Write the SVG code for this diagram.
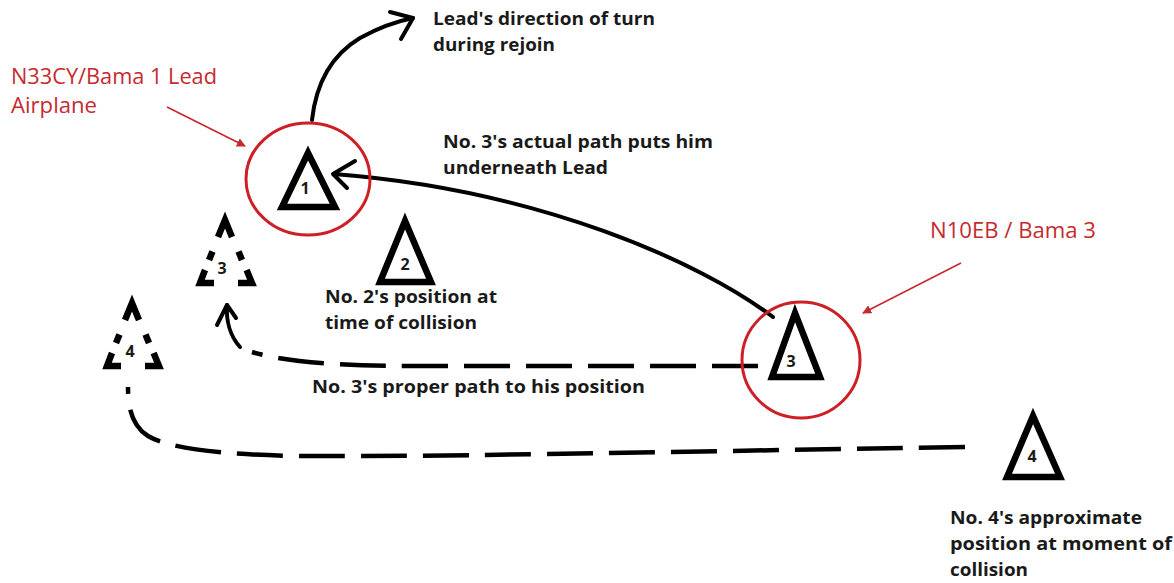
<svg xmlns="http://www.w3.org/2000/svg" width="1174" height="583" viewBox="0 0 1174 583">
  <style>
    .lbl { font-family: "Open Sans", "Liberation Sans", sans-serif; font-weight: bold; font-size: 17.5px; fill: #1a1a1a; }
    .red { font-family: "Open Sans", "Liberation Sans", sans-serif; font-size: 21px; fill: #c62a2f; }
    .num { font-family: "Open Sans", "Liberation Sans", sans-serif; font-weight: bold; font-size: 16px; fill: #1a1a1a; text-anchor: middle; }
    .tri { fill: none; stroke: #000; stroke-width: 6.5; stroke-linejoin: miter; stroke-miterlimit: 10; }
    .ring { fill: none; stroke: #cc1f26; stroke-width: 3; }
    .path { fill: none; stroke: #000; stroke-width: 4; stroke-linecap: round; stroke-linejoin: round; }
    .dash { fill: none; stroke: #000; stroke-width: 4.5; stroke-dasharray: 46 16; }
    .pointer { fill: none; stroke: #c62a2f; stroke-width: 1.6; }
  </style>
  <defs>
    <marker id="redHead" viewBox="0 0 10 10" refX="9" refY="5" markerWidth="9" markerHeight="9" markerUnits="userSpaceOnUse" orient="auto">
      <path d="M0,0 L10,5 L0,10 Z" fill="#c62a2f"/>
    </marker>
    <!-- hand-drawn dashed triangle, apex at origin -->
    <g id="dashTri" fill="none" stroke="#000" stroke-width="6.5" stroke-linejoin="miter">
      <polyline points="-7,17 0,0 7,17"/>
      <line x1="-12.5" y1="31.5" x2="-16" y2="40"/>
      <line x1="13.5" y1="31.5" x2="17" y2="40"/>
      <polyline points="-20,50 -25,63 -11,63"/>
      <polyline points="21.6,50 27,63 13,63"/>
    </g>
  </defs>

  <rect width="1174" height="583" fill="#fff"/>

  <!-- connectors -->
  <g id="connectors">
    <!-- lead's turn -->
    <path class="path" d="M312,120 C316,84 330,56 360,38 C380,27 398,21 413,18"/>
    <path class="path" d="M390,12 L413,18 L401,39"/>
    <!-- No. 3 actual path -->
    <path class="path" d="M773,317 C700,262 540,190 334,174"/>
    <path class="path" d="M355,161 L333,174 L347,188"/>
    <!-- No. 3 proper path -->
    <path class="dash" d="M758,366 L420,366 C340,366 285,362 252,352"/>
    <path class="path" d="M240,347 C230,336 226,320 227,305"/>
    <path class="path" d="M217,325 L227,305 L236,318"/>
    <!-- No. 4 path -->
    <path class="dash" d="M965,447 C700,451 450,457 300,456 C225,455 170,449 148,436 C134,427 128,412 128,387"/>
    <!-- red pointers -->
    <line class="pointer" x1="167" y1="107" x2="245" y2="146" marker-end="url(#redHead)"/>
    <line class="pointer" x1="961" y1="263" x2="863" y2="313" marker-end="url(#redHead)"/>
  </g>

  <!-- lead airplane -->
  <g id="lead">
    <ellipse class="ring" cx="308" cy="179" rx="62" ry="56"/>
    <polygon class="tri" points="308,153 282,207 335,207"/>
    <text class="num" x="305" y="194">1</text>
  </g>

  <!-- number 2 -->
  <g id="no2">
    <polygon class="tri" points="405,221 380,282 431,282"/>
    <text class="num" x="405" y="270" font-size="17">2</text>
  </g>

  <!-- number 3 at collision -->
  <g id="no3">
    <ellipse class="ring" cx="801" cy="360" rx="59" ry="58"/>
    <polygon class="tri" points="795,313 772,377 820,377"/>
    <text class="num" x="791" y="367">3</text>
  </g>

  <!-- number 4 -->
  <g id="no4">
    <polygon class="tri" points="1033,416 1007,477 1060,477"/>
    <text class="num" x="1032" y="462">4</text>
  </g>

  <!-- proper positions (dashed) -->
  <g id="no3proper">
    <use href="#dashTri" x="225" y="220"/>
    <text class="num" x="222" y="274">3</text>
  </g>
  <g id="no4proper">
    <use href="#dashTri" x="132" y="303"/>
    <text class="num" x="130" y="357">4</text>
  </g>

  <!-- labels -->
  <g id="labels">
    <text class="lbl" x="433" y="25" textLength="222" lengthAdjust="spacingAndGlyphs">Lead's direction of turn</text>
    <text class="lbl" x="433" y="51" textLength="122" lengthAdjust="spacingAndGlyphs">during rejoin</text>
    <text class="lbl" x="443" y="148" textLength="270" lengthAdjust="spacingAndGlyphs">No. 3's actual path puts him</text>
    <text class="lbl" x="443" y="174" textLength="165" lengthAdjust="spacingAndGlyphs">underneath Lead</text>
    <text class="lbl" x="325" y="303" textLength="172" lengthAdjust="spacingAndGlyphs">No. 2's position at</text>
    <text class="lbl" x="325" y="329" textLength="152" lengthAdjust="spacingAndGlyphs">time of collision</text>
    <text class="lbl" x="312" y="393" textLength="333" lengthAdjust="spacingAndGlyphs">No. 3's proper path to his position</text>
    <text class="lbl" x="950" y="524" textLength="192" lengthAdjust="spacingAndGlyphs">No. 4's approximate</text>
    <text class="lbl" x="950" y="550" textLength="222" lengthAdjust="spacingAndGlyphs">position at moment of</text>
    <text class="lbl" x="950" y="576" textLength="78" lengthAdjust="spacingAndGlyphs">collision</text>
    <text class="red" x="11" y="84" textLength="206" lengthAdjust="spacingAndGlyphs">N33CY/Bama 1 Lead</text>
    <text class="red" x="11" y="113" textLength="86" lengthAdjust="spacingAndGlyphs">Airplane</text>
    <text class="red" x="930" y="238" textLength="166" lengthAdjust="spacingAndGlyphs">N10EB / Bama 3</text>
  </g>
</svg>
